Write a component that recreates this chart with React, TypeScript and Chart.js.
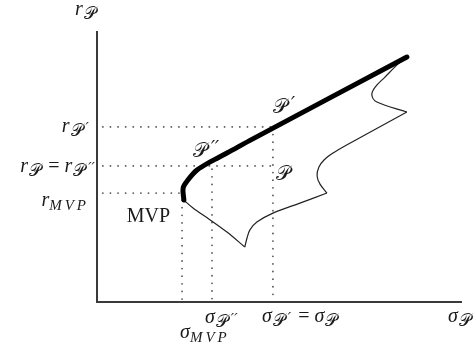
import React, { useEffect, useRef } from "react";
import { Chart, registerables } from "chart.js";

Chart.register(...registerables);

// Axis extents (sigma, r units)
const axisSigmaMax = 10;
const axisRMax = 10;

// Guide values in order: MVP, P'', P'
const guideSigma = [2.33, 3.15, 4.82];
const guideR = [4.02, 5.02, 6.46];
const guideTopR = [3.76, 4.9, 6.46];
const guideStart = 0.16;

// Efficient frontier (thick)
const frontierSigma = [2.38, 2.36, 2.49, 2.74, 3.1, 3.56, 4.27, 8.49];
const frontierR = [3.76, 4.21, 4.5, 4.87, 5.17, 5.5, 6.02, 9.04];

// Lower boundary of feasible set (thin), in pieces between cusps
const lowerSigmaA = [2.38, 2.63, 3.1, 3.56, 4.05];
const lowerRA = [3.76, 3.47, 3.03, 2.58, 2.03];
const lowerSigmaB = [4.05, 4.11, 4.19, 4.38, 4.82, 5.56, 6.3];
const lowerRB = [2.03, 2.36, 2.66, 2.95, 3.28, 3.65, 4.02];
const lowerSigmaC = [6.3, 6.11, 6.03, 6.08, 6.22, 6.47, 6.79, 8.49];
const lowerRC = [4.02, 4.35, 4.65, 4.98, 5.24, 5.5, 5.76, 7.01];
const lowerSigmaD = [8.49, 7.67, 7.53, 7.62, 7.89, 8.22, 8.38];
const lowerRD = [7.01, 7.38, 7.64, 7.93, 8.3, 8.75, 8.93];

// Text pieces
const SCRIPT_P = "\u{1D4AB}";
const PRIME = "\u2032";
const DPRIME = "\u2032\u2032";
const MVP = "MVP";

const W = 474;
const H = 353;
const PX_PER_SIGMA = 36.5;
const PX_PER_R = 27.1;
const ORIGIN_X = 97;
const ORIGIN_Y = 302;
const XMIN = -ORIGIN_X / PX_PER_SIGMA;
const XMAX = XMIN + W / PX_PER_SIGMA;
const YMAX = ORIGIN_Y / PX_PER_R;
const YMIN = YMAX - H / PX_PER_R;

const zip = (xs: number[], ys: number[]) => xs.map((x, i) => ({ x, y: ys[i] }));

const IT = 'italic 20px "Liberation Serif", "DejaVu Serif", serif';
const SUB = 'italic 15px "Liberation Serif", "DejaVu Serif", serif';
const SCR_SUB = '17px "DejaVu Sans", "DejaVu Serif", serif';
const PRIME_SUB = 'italic 15px "DejaVu Serif", serif';
const SCR = '20px "DejaVu Sans", "DejaVu Serif", serif';
const PRIME_BIG = 'italic 18px "DejaVu Serif", serif';
const RM = '20px "Liberation Serif", "DejaVu Serif", serif';
const OP = '20px "Liberation Serif", "DejaVu Serif", serif';

type Seg = { t: string; f: string; dy?: number; ls?: number; gap?: number };

function segWidth(ctx: CanvasRenderingContext2D, s: Seg) {
  ctx.font = s.f;
  let w = ctx.measureText(s.t).width + (s.gap || 0);
  if (s.ls) w += s.ls * [...s.t].length;
  return w;
}

function drawSegs(
  ctx: CanvasRenderingContext2D,
  segs: Seg[],
  x: number,
  y: number,
  align: "left" | "right" | "center"
) {
  const total = segs.reduce((a, s) => a + segWidth(ctx, s), 0);
  let cx = align === "left" ? x : align === "right" ? x - total : x - total / 2;
  for (const s of segs) {
    ctx.font = s.f;
    cx += s.gap || 0;
    if (s.ls) {
      for (const ch of [...s.t]) {
        ctx.fillText(ch, cx, y + (s.dy || 0));
        cx += ctx.measureText(ch).width + s.ls;
      }
    } else {
      ctx.fillText(s.t, cx, y + (s.dy || 0));
      cx += ctx.measureText(s.t).width;
    }
  }
}

const labelPlugin = {
  id: "mathLabels",
  afterDatasetsDraw(chart: any) {
    const ctx: CanvasRenderingContext2D = chart.ctx;
    const xs = chart.scales.x;
    const ys = chart.scales.y;
    const px = (v: number) => xs.getPixelForValue(v);
    const py = (v: number) => ys.getPixelForValue(v);
    ctx.save();
    ctx.fillStyle = "#1a1a1a";
    ctx.textBaseline = "alphabetic";

    const subP = (primes: string): Seg[] => {
      const out: Seg[] = [{ t: SCRIPT_P, f: SCR_SUB, dy: 4, gap: 1 }];
      if (primes) out.push({ t: primes, f: PRIME_SUB, dy: 1, gap: 3 });
      return out;
    };
    const bigP = (primes: string): Seg[] => {
      const out: Seg[] = [{ t: SCRIPT_P, f: SCR }];
      if (primes) out.push({ t: primes, f: PRIME_BIG, dy: -3, gap: 4 });
      return out;
    };
    const subMVP: Seg = { t: MVP, f: SUB, dy: 4, ls: 3 };
    const r: Seg = { t: "r", f: IT };
    const s: Seg = { t: "\u03C3", f: IT };
    const eq: Seg = { t: " = ", f: OP, gap: 2 };

    // y-axis title
    drawSegs(ctx, [r, ...subP("")], px(0) - 22, py(axisRMax) - 16, "left");
    // r_P'
    drawSegs(ctx, [r, ...subP(PRIME)], px(0) - 8, py(guideR[2]) + 5, "right");
    // r_P = r_P''
    drawSegs(ctx, [r, ...subP(""), eq, r, ...subP(DPRIME)], px(0) - 2, py(guideR[1]) + 6, "right");
    // r_MVP
    drawSegs(ctx, [r, subMVP], px(0) - 8, py(guideR[0]) + 13, "right");
    // MVP label
    drawSegs(ctx, [{ t: MVP, f: RM }], px(guideSigma[0]) - 12, py(guideR[0]) + 29, "right");
    // P'' on frontier
    drawSegs(ctx, bigP(DPRIME), px(guideSigma[1]) - 19, py(guideR[1]) - 9, "left");
    // P inside
    drawSegs(ctx, bigP(""), px(guideSigma[2]) + 3, py(guideR[1]) + 14, "left");
    // P' on frontier
    drawSegs(ctx, bigP(PRIME), px(guideSigma[2]) + 0, py(guideR[2]) - 14, "left");
    // sigma_P''
    drawSegs(ctx, [s, ...subP(DPRIME)], px(guideSigma[1]) - 7, py(0) + 21, "left");
    // sigma_MVP
    drawSegs(ctx, [s, subMVP], px(guideSigma[0]) - 2, py(0) + 36, "left");
    // sigma_P' = sigma_P
    drawSegs(ctx, [s, ...subP(PRIME), eq, s, ...subP("")], px(guideSigma[2]) - 11, py(0) + 20, "left");
    // x-axis title
    drawSegs(ctx, [s, ...subP("")], px(axisSigmaMax) - 14, py(0) + 20, "left");
    ctx.restore();
  },
};

export default function App() {
  const ref = useRef<HTMLCanvasElement | null>(null);

  useEffect(() => {
    if (!ref.current) return;
    const dotted = {
      borderColor: "#555",
      borderWidth: 1.8,
      borderDash: [0.01, 7.6],
      borderCapStyle: "round" as const,
      pointRadius: 0,
      showLine: true,
      tension: 0,
    };
    const thin = {
      borderColor: "#222",
      borderWidth: 1.2,
      pointRadius: 0,
      showLine: true,
      tension: 0.35,
    };
    const chart = new Chart(ref.current, {
      type: "scatter",
      data: {
        datasets: [
          {
            label: "frontier",
            data: zip(frontierSigma, frontierR),
            borderColor: "#000",
            borderWidth: 5,
            borderCapStyle: "round",
            borderJoinStyle: "round",
            pointRadius: 0,
            showLine: true,
            tension: 0.35,
          },
          { label: "lowerA", data: zip(lowerSigmaA, lowerRA), ...thin },
          { label: "lowerB", data: zip(lowerSigmaB, lowerRB), ...thin },
          { label: "lowerC", data: zip(lowerSigmaC, lowerRC), ...thin },
          { label: "lowerD", data: zip(lowerSigmaD, lowerRD), ...thin },
          {
            label: "axes",
            data: [
              { x: 0, y: axisRMax },
              { x: 0, y: 0 },
              { x: axisSigmaMax, y: 0 },
            ],
            borderColor: "#3a3a3a",
            borderWidth: 2,
            pointRadius: 0,
            showLine: true,
            tension: 0,
          },
          { label: "hMVP", data: [{ x: guideStart, y: guideR[0] }, { x: guideSigma[0], y: guideR[0] }], ...dotted },
          { label: "hP2", data: [{ x: guideStart, y: guideR[1] }, { x: guideSigma[2], y: guideR[1] }], ...dotted },
          { label: "hP1", data: [{ x: guideStart, y: guideR[2] }, { x: guideSigma[2], y: guideR[2] }], ...dotted },
          { label: "vMVP", data: [{ x: guideSigma[0], y: guideTopR[0] }, { x: guideSigma[0], y: 0 }], ...dotted },
          { label: "vP2", data: [{ x: guideSigma[1], y: guideTopR[1] }, { x: guideSigma[1], y: 0 }], ...dotted },
          { label: "vP1", data: [{ x: guideSigma[2], y: guideTopR[2] }, { x: guideSigma[2], y: 0 }], ...dotted },
        ],
      },
      options: {
        animation: false,
        responsive: false,
        maintainAspectRatio: false,
        devicePixelRatio: 1,
        layout: { padding: 0 },
        plugins: { legend: { display: false }, tooltip: { enabled: false } },
        events: [],
        scales: {
          x: { type: "linear", min: XMIN, max: XMAX, display: false },
          y: { type: "linear", min: YMIN, max: YMAX, display: false },
        },
      },
      plugins: [labelPlugin],
    });
    return () => chart.destroy();
  }, []);

  return (
    <div style={{ position: "fixed", left: 0, top: 0, width: W, height: H, background: "#fff" }}>
      <canvas ref={ref} width={W} height={H} style={{ display: "block", width: W, height: H }} />
    </div>
  );
}
